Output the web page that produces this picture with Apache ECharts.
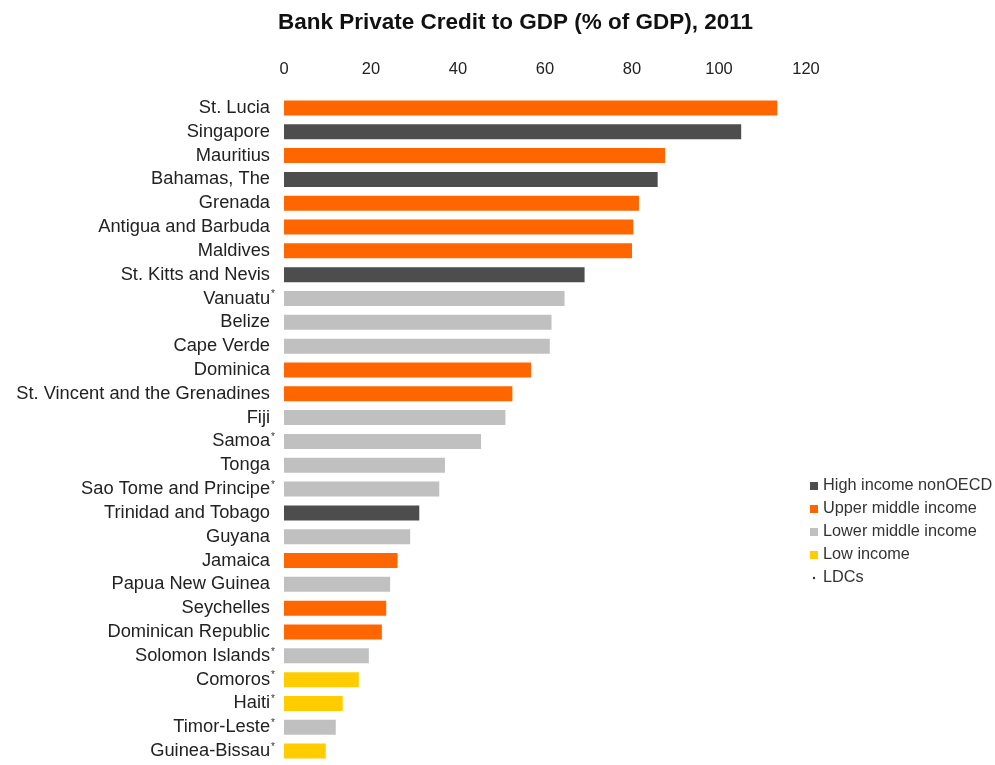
<!DOCTYPE html>
<html><head><meta charset="utf-8">
<script src="https://cdn.jsdelivr.net/npm/echarts@6/dist/echarts.min.js"></script>
<style>html,body{margin:0;padding:0;background:#fff}#c{width:995px;height:765px}</style>
</head><body><div id="c"></div>
<script>
var categories = ["St. Lucia","Singapore","Mauritius","Bahamas, The","Grenada","Antigua and Barbuda","Maldives","St. Kitts and Nevis","Vanuatu","Belize","Cape Verde","Dominica","St. Vincent and the Grenadines","Fiji","Samoa","Tonga","Sao Tome and Principe","Trinidad and Tobago","Guyana","Jamaica","Papua New Guinea","Seychelles","Dominican Republic","Solomon Islands","Comoros","Haiti","Timor-Leste","Guinea-Bissau"];
var values = [113.4,105.1,87.6,85.9,81.6,80.3,80.0,69.1,64.5,61.5,61.1,56.8,52.5,50.9,45.3,37.0,35.7,31.1,29.0,26.1,24.4,23.5,22.5,19.5,17.2,13.5,11.9,9.6];
var groups = ["U","H","U","H","U","U","U","H","L","L","L","U","U","L","L","L","L","H","L","U","L","U","U","L","Y","Y","L","Y"];
var ldc = ["Vanuatu","Samoa","Sao Tome and Principe","Solomon Islands","Comoros","Haiti","Timor-Leste","Guinea-Bissau"];
var groupNames = {H:"High income nonOECD",U:"Upper middle income",L:"Lower middle income",Y:"Low income"};
var groupColors = {H:"#4d4d4d",U:"#ff6600",L:"#c0c0c0",Y:"#ffcc00"};
var xTicks = {min:0,max:120,interval:20};

var FONT = "Arial, 'Liberation Sans', sans-serif";
var order = ["H","U","L","Y"];
var series = order.map(function(g){
  return {
    name: groupNames[g], type:'bar', stack:'all', barWidth:15,
    itemStyle:{color:groupColors[g]},
    data: values.map(function(v,i){ return groups[i]===g ? v : '-'; })
  };
});
series.push({name:'LDCs', type:'bar', stack:'all', data:[], itemStyle:{color:'#333'}});

var chart = echarts.init(document.getElementById('c'));
chart.setOption({
  animation:false,
  backgroundColor:'#fff',
  title:{text:'Bank Private Credit to GDP (% of GDP), 2011', left:273, top:6,
    textStyle:{fontFamily:FONT,fontSize:22.5,fontWeight:'bold',color:'#111'}},
  grid:{left:284,right:189,top:96,bottom:2},
  xAxis:{type:'value',position:'top',min:xTicks.min,max:xTicks.max,interval:xTicks.interval,
    axisLine:{show:false},axisTick:{show:false},splitLine:{show:false},
    axisLabel:{margin:18,color:'#222',fontFamily:FONT,fontSize:16.5}},
  yAxis:{type:'category',inverse:true,data:categories,
    axisLine:{show:false},axisTick:{show:false},
    axisLabel:{interval:0,margin:9,color:'#222',fontFamily:FONT,fontSize:18.3,
      formatter:function(v){ return ldc.indexOf(v)>=0 ? v+'{s|*}' : v+'{p| }'; },
      rich:{s:{fontSize:10,color:'#333',verticalAlign:'top',padding:[0,0,8,1],fontFamily:FONT},
            p:{width:5,fontSize:18.3}}}},
  legend:{orient:'vertical',left:805,top:473,itemWidth:8,itemHeight:8,itemGap:7,
    textStyle:{fontFamily:FONT,fontSize:16.3,color:'#333'},
    data:[{name:groupNames.H,icon:'rect'},{name:groupNames.U,icon:'rect'},{name:groupNames.L,icon:'rect'},{name:groupNames.Y,icon:'rect'},
      {name:'LDCs',icon:'path://M0,0L0.01,0M10,10L10.01,10M5,3.5A1.5,1.5 0 1,0 5.01,3.5Z'}]},
  series:series
});
</script></body></html>
